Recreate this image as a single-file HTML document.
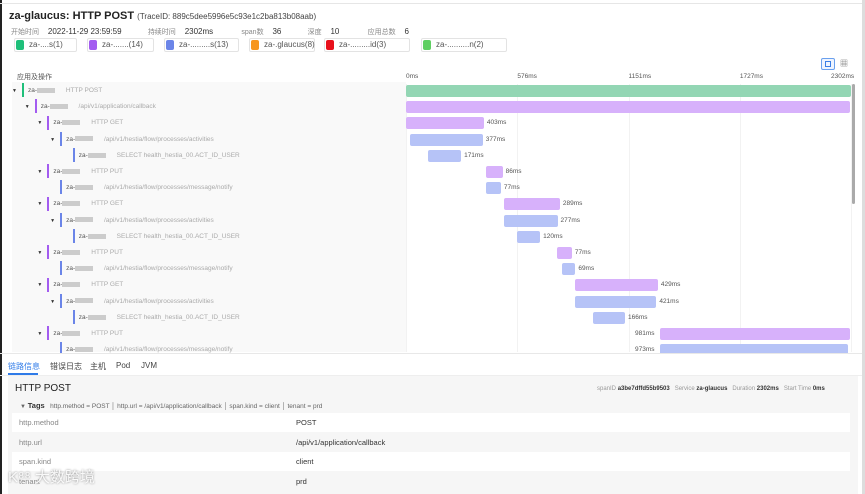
<!DOCTYPE html>
<html><head><meta charset="utf-8">
<style>
*{box-sizing:border-box;margin:0;padding:0}
body{width:865px;height:494px;overflow:hidden;background:#fff;font-family:"Liberation Sans","Noto Sans CJK SC",sans-serif;position:relative;color:#333}
.abs{position:absolute;white-space:nowrap}
.chip{position:absolute;top:38px;height:14px;border:1px solid #e3e3e3;border-radius:2px;background:#fff;font-size:8px;color:#555;line-height:12px;padding-left:14px}
.chip i{position:absolute;left:1px;top:1px;width:8px;height:10px;border-radius:2px}
.lbl{font-size:7px;color:#888}
.gl{position:absolute;top:84px;height:268px;width:1px;background:#f2f2f2}
#clip{position:absolute;left:0;top:0;width:865px;height:353px;overflow:hidden}
</style></head><body>
<div class="abs" style="left:0;top:0;width:2px;height:494px;background:#222"></div>
<div class="abs" style="left:862px;top:0;width:3px;height:494px;background:#ddd"></div>
<div class="abs" style="left:0;top:3px;width:862px;height:1px;background:#e6e6e6"></div>

<div class="abs" style="left:9px;top:10px;font-size:11px;font-weight:bold;color:#222">za-glaucus: HTTP POST <span style="font-size:8px;font-weight:normal;color:#444">(TraceID: 889c5dee5996e5c93e1c2ba813b08aab)</span></div>

<div class="abs" style="left:11px;top:27px;font-size:8px;color:#333">
<span class="lbl">开始时间</span>&nbsp;&nbsp;&nbsp;&nbsp;2022-11-29 23:59:59
<span style="margin-left:24px" class="lbl">持续时间</span>&nbsp;&nbsp;&nbsp;&nbsp;2302ms
<span style="margin-left:26px" class="lbl">span数</span>&nbsp;&nbsp;&nbsp;&nbsp;36
<span style="margin-left:24px" class="lbl">深度</span>&nbsp;&nbsp;&nbsp;&nbsp;10
<span style="margin-left:26px" class="lbl">应用总数</span>&nbsp;&nbsp;&nbsp;&nbsp;6</div>

<div class="chip" style="left:14px;width:63px"><i style="background:#1fbf7a"></i>za-....s(1)</div>
<div class="chip" style="left:87px;width:67px"><i style="background:#a35cf0"></i>za-.......(14)</div>
<div class="chip" style="left:164px;width:75px"><i style="background:#6b85e8"></i>za-.........s(13)</div>
<div class="chip" style="left:249px;width:66px"><i style="background:#f7961e"></i>za-.glaucus(8)</div>
<div class="chip" style="left:324px;width:86px"><i style="background:#e8101b"></i>za-.........id(3)</div>
<div class="chip" style="left:421px;width:86px"><i style="background:#5fcf62"></i>za-..........n(2)</div>

<div class="abs" style="left:821px;top:58px;width:14px;height:12px;border:1px solid #6aa0ee;border-radius:2px;background:#eef4ff"><div style="margin:2px 3px;width:6px;height:6px;border:1px solid #3a7ee6"></div></div>
<div class="abs" style="left:838px;top:58px;width:12px;height:12px;font-size:8px;color:#666;text-align:center">▦</div>

<div class="abs" style="left:12px;top:82px;width:394px;height:270px;background:#f9f9f9"></div>
<div class="abs" style="left:17px;top:72px;font-size:7px;color:#555">应用及操作</div>
<div id="clip"><div id="axis"></div><div id="rows"></div></div>
<div class="abs" style="left:852px;top:84px;width:3px;height:120px;background:#aaa;border-radius:2px"></div>
<div class="abs" style="left:0;top:353px;width:862px;height:1px;background:#e8e8e8"></div>

<div class="abs" style="left:8px;top:361px;font-size:8px;color:#2f7be8">链路信息</div>
<div class="abs" style="left:8px;top:373px;width:30px;height:2px;background:#2f7be8"></div>
<div class="abs" style="left:50px;top:361px;font-size:8px;color:#444">错误日志</div>
<div class="abs" style="left:90px;top:361px;font-size:8px;color:#444">主机</div>
<div class="abs" style="left:116px;top:361px;font-size:8px;color:#444">Pod</div>
<div class="abs" style="left:141px;top:361px;font-size:8px;color:#444">JVM</div>
<div class="abs" style="left:0;top:375px;width:862px;height:1px;background:#eee"></div>

<div class="abs" style="left:8px;top:376px;width:850px;height:118px;background:#f6f6f6"></div>
<div class="abs" style="left:15px;top:383px;font-size:10px;color:#222">HTTP POST</div>
<div class="abs" style="left:597px;top:386px;font-size:6px;color:#999">spanID <b style="color:#333">a3be7dffd55b9503</b>&nbsp;&nbsp; Service <b style="color:#333">za-glaucus</b>&nbsp;&nbsp; Duration <b style="color:#333">2302ms</b>&nbsp;&nbsp; Start Time <b style="color:#333">0ms</b></div>
<div class="abs" style="left:20px;top:401px;font-size:6.5px;color:#666"><span style="font-size:6px">▼</span> <b style="color:#333;font-size:7.5px">Tags</b>&nbsp;&nbsp; http.method = POST │ http.url = /api/v1/application/callback │ span.kind = client │ tenant = prd</div>
<div id="tags"></div>
<div class="abs" style="left:8px;top:466px;font-size:15px;color:rgba(255,255,255,0.9);text-shadow:0 0 2px #888">K⁸⁸ 大数跨境</div>

<script>
const spanApps=[0,1,1,2,2,1,2,1,2,2,1,2,1,2,2,1,2];
const spanDepth=[0,1,2,3,4,2,3,2,3,4,2,3,2,3,4,2,3];
const spanOps=["HTTP POST","/api/v1/application/callback","HTTP GET","/api/v1/hestia/flow/processes/activities","SELECT health_hestia_00.ACT_ID_USER","HTTP PUT","/api/v1/hestia/flow/processes/message/notify","HTTP GET","/api/v1/hestia/flow/processes/activities","SELECT health_hestia_00.ACT_ID_USER","HTTP PUT","/api/v1/hestia/flow/processes/message/notify","HTTP GET","/api/v1/hestia/flow/processes/activities","SELECT health_hestia_00.ACT_ID_USER","HTTP PUT","/api/v1/hestia/flow/processes/message/notify"];
const spanStart=[0,0,0,20,114,414,414,507,507,574,781,807,874,874,967,1314,1314];
const spanDur=[2302,2295,403,377,171,86,77,289,277,120,77,69,429,421,166,981,973];
const tickLabels=["0ms","576ms","1151ms","1727ms","2302ms"];
const tickValues=[0,576,1151,1727,2302];
const maxMs=2302;
const appColors=["#1fbf7a","#a35cf0","#6b85e8"];
const barColors=["#93d6b4","#d7b1fb","#b6c3f7"];
const X0=406,X1=851;
const xs=v=>X0+(v/maxMs)*(X1-X0);
const rowY=i=>83+i*16.2;

const axis=document.getElementById('axis');
tickValues.forEach((v,i)=>{
  const t=document.createElement('div');t.className='abs';
  
  
  t.style.cssText=`top:73px;font-size:6.5px;color:#555;left:${i==tickValues.length-1?xs(v)-20:xs(v)}px`;
  t.textContent=tickLabels[i];axis.appendChild(t);
  const g=document.createElement('div');g.className='gl';
  
  
  g.style.left=xs(v)+'px';axis.appendChild(g);
});

const rows=document.getElementById('rows');
spanOps.forEach((op,i)=>{
  const y=rowY(i),d=spanDepth[i],a=spanApps[i];
  const r=document.createElement('div');r.className='abs';
  
  
  r.style.cssText=`left:${12+d*12.7}px;top:${y}px;height:16px;font-size:6.5px;line-height:16px;color:#aaa`;
  const hasChild=i<spanOps.length-1&&spanDepth[i+1]>d;
  r.innerHTML=`<span style="display:inline-block;width:10px;color:#333;font-size:5px">${hasChild?'▼':''}</span><span style="display:inline-block;width:2px;height:14px;vertical-align:middle;background:${appColors[a]};margin-right:4px"></span><span style="color:#555">za-<span style="display:inline-block;width:18px;height:5px;background:#ccc;vertical-align:middle"></span></span>&nbsp;&nbsp;&nbsp;&nbsp;&nbsp;&nbsp;${op}`;
  rows.appendChild(r);
  const b=document.createElement('div');b.className='abs';
  
  
  const x=xs(spanStart[i]),w=Math.max(4,xs(spanStart[i]+spanDur[i])-x);
  b.style.cssText=`left:${x}px;top:${y+2}px;width:${w}px;height:12px;background:${barColors[a]};border-radius:2px`;
  rows.appendChild(b);
  if(i>1){
    const l=document.createElement('div');l.className='abs';
    
    
    const right=x+w+3+30<X1;
    l.style.cssText=`top:${y+4}px;font-size:6.5px;color:#555;left:${right?x+w+3:x-25}px`;
    l.textContent=spanDur[i]+'ms';rows.appendChild(l);
  }
});

const tagKeys=["http.method","http.url","span.kind","tenant"];
const tagVals=["POST","/api/v1/application/callback","client","prd"];
const tags=document.getElementById('tags');
tagKeys.forEach((k,i)=>{
  const t=document.createElement('div');t.className='abs';
  
  
  t.style.cssText=`left:12px;top:${413+i*19.5}px;width:838px;height:19px;font-size:7.5px;line-height:19px;background:${i%2==0?'#fff':'#f6f6f6'}`;
  t.innerHTML=`<span style="position:absolute;left:7px;color:#888">${k}</span><span style="position:absolute;left:284px;color:#333">${tagVals[i]}</span>`;
  tags.appendChild(t);
});
</script>
</body></html>
